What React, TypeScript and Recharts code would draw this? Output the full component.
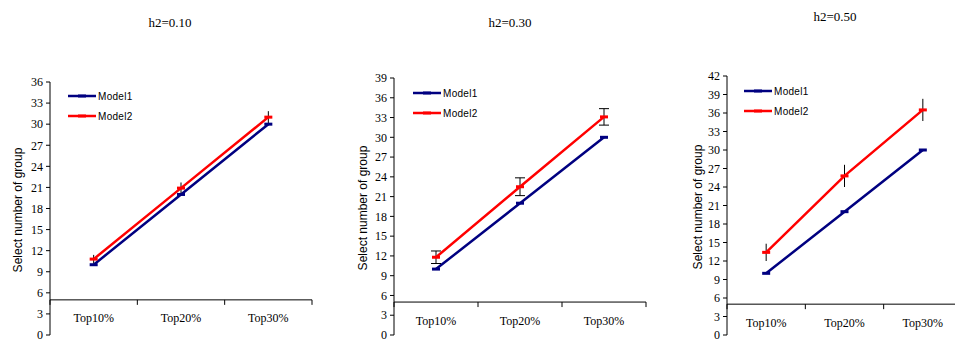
import React from "react";
import { LineChart, Line, XAxis, YAxis, ErrorBar, ReferenceLine, Legend } from "recharts";

const categories = ["Top10%", "Top20%", "Top30%"];
const titles = ["h2=0.10", "h2=0.30", "h2=0.50"];
const seriesNames = ["Model1", "Model2"];

// h2 = 0.10
const model1H10 = [10, 20, 30];
const model2H10 = [10.8, 20.9, 31.0];
const err2H10 = [0.6, 0.8, 0.85];
const yTicksH10 = [0, 3, 6, 9, 12, 15, 18, 21, 24, 27, 30, 33, 36];

// h2 = 0.30
const model1H30 = [10, 20, 30];
const model2H30 = [11.8, 22.5, 33.1];
const err2H30 = [0.95, 1.35, 1.25];
const yTicksH30 = [0, 3, 6, 9, 12, 15, 18, 21, 24, 27, 30, 33, 36, 39];

// h2 = 0.50
const model1H50 = [10, 20, 30];
const model2H50 = [13.4, 25.8, 36.5];
const err2H50 = [1.4, 1.8, 1.8];
const yTicksH50 = [0, 3, 6, 9, 12, 15, 18, 21, 24, 27, 30, 33, 36, 39, 42];

const SERIF = '"Liberation Serif", "Times New Roman", serif';
const SANS = '"Liberation Sans", Arial, sans-serif';
const NAVY = "#000080";
const RED = "#ff0000";
const CHART_H = 343;
const AXIS_W = 30;
const XAXIS_H = 8;
const AXIS_CROSS = 5; // x axis crosses the value axis at 5

type PanelLayout = {
  plotLeft: number;
  plotRight: number;
  plotTop: number;
  plotBottom: number;
  legendX: number;
  legendY: number;
  labelDx: number;
  capWidth: number;
};

const layouts: PanelLayout[] = [
  { plotLeft: 50, plotRight: 312, plotTop: 82, plotBottom: 335, legendX: 68, legendY: 86, labelDx: 2, capWidth: 0 },
  { plotLeft: 394, plotRight: 646, plotTop: 78, plotBottom: 335, legendX: 69, legendY: 83, labelDx: 3, capWidth: 5 },
  { plotLeft: 727, plotRight: 962, plotTop: 76, plotBottom: 335, legendX: 67, legendY: 81, labelDx: 5, capWidth: 0 },
];

const titlePos = [
  { x: 170, y: 27 },
  { x: 510, y: 27 },
  { x: 835, y: 21 },
];

function dashDot(color: string) {
  return (p: any) => (
    <rect key={`d-${p.index}`} x={p.cx - 4} y={p.cy - 1.5} width={8} height={3} fill={color} />
  );
}

function LegendBox({ payload }: any) {
  return (
    <div style={{ fontFamily: SANS, fontSize: 10, color: "#000" }}>
      {(payload || []).map((e: any) => (
        <div key={e.value} style={{ display: "flex", alignItems: "center", height: 20 }}>
          <svg width={29} height={20}>
            <line x1={0} x2={28} y1={10} y2={10} stroke={e.color} strokeWidth={2.5} />
            <rect x={10} y={8.5} width={8} height={3} fill={e.color} />
          </svg>
          <span style={{ marginLeft: 1, letterSpacing: 0.3 }}>{e.value}</span>
        </div>
      ))}
    </div>
  );
}

function Panel({
  m1,
  m2,
  err,
  yTicks,
  layout,
}: {
  m1: number[];
  m2: number[];
  err: number[];
  yTicks: number[];
  layout: PanelLayout;
}) {
  const data = categories.map((cat, i) => ({ cat, m1: m1[i], m2: m2[i], err: err[i] }));
  const left = layout.plotLeft - 20 - AXIS_W;
  const width = layout.plotRight - left + 10;
  const yMax = yTicks[yTicks.length - 1];
  const plotH = layout.plotBottom - layout.plotTop;
  const crossY = layout.plotTop + plotH * (1 - AXIS_CROSS / yMax);
  const labelY = crossY + 22.5;

  return (
    <div style={{ position: "absolute", left, top: 0, width, height: CHART_H }}>
      <LineChart
        width={width}
        height={CHART_H}
        data={data}
        margin={{ top: layout.plotTop, right: 10, bottom: CHART_H - layout.plotBottom - XAXIS_H, left: 20 }}
      >
        <XAxis
          dataKey="cat"
          scale="band"
          height={XAXIS_H}
          axisLine={false}
          tickLine={false}
          interval={0}
          tick={(p: any) => (
            <text
              key={`t-${p.index}`}
              x={p.x}
              y={labelY}
              textAnchor="middle"
              fontFamily={SERIF}
              fontSize={12}
              fill="#000"
            >
              {p.payload.value}
            </text>
          )}
        />
        <YAxis
          type="number"
          domain={[0, yMax]}
          ticks={yTicks}
          interval={0}
          width={AXIS_W}
          axisLine={{ stroke: "#000" }}
          tickLine={{ stroke: "#000" }}
          tickSize={4}
          tickMargin={3}
          tick={{ fontFamily: SERIF, fontSize: 12, fill: "#000" }}
          label={{
            content: (p: any) => {
              const vb = p.viewBox;
              const x = vb.x + layout.labelDx;
              const y = vb.y + vb.height / 2 + 1.5;
              return (
                <text
                  x={x}
                  y={y}
                  transform={`rotate(-90, ${x}, ${y})`}
                  textAnchor="middle"
                  fontFamily={SANS}
                  fontSize={12}
                  fill="#000"
                >
                  Select number of group
                </text>
              );
            },
          }}
        />
        <ReferenceLine
          y={AXIS_CROSS}
          stroke="#000"
          shape={(p: any) => {
            const step = (p.x2 - p.x1) / categories.length;
            return (
              <g>
                <line x1={p.x1} x2={p.x2} y1={p.y1} y2={p.y1} stroke="#000" strokeWidth={1} />
                {[0, 1, 2, 3].map((k) => (
                  <line
                    key={k}
                    x1={p.x1 + k * step}
                    x2={p.x1 + k * step}
                    y1={p.y1}
                    y2={p.y1 + 5}
                    stroke="#000"
                    strokeWidth={1}
                  />
                ))}
              </g>
            );
          }}
        />
        <Legend
          layout="vertical"
          align="center"
          verticalAlign="middle"
          wrapperStyle={{ left: layout.legendX, top: layout.legendY, width: 100 }}
          content={(p: any) => <LegendBox payload={p.payload} />}
        />
        <Line
          dataKey="m1"
          name={seriesNames[0]}
          stroke={NAVY}
          strokeWidth={2.5}
          dot={dashDot(NAVY)}
          activeDot={false}
          isAnimationActive={false}
        />
        <Line
          dataKey="m2"
          name={seriesNames[1]}
          stroke={RED}
          strokeWidth={2.5}
          dot={dashDot(RED)}
          activeDot={false}
          isAnimationActive={false}
        >
          <ErrorBar
            dataKey="err"
            direction="y"
            width={layout.capWidth}
            stroke="#000"
            strokeWidth={1}
            isAnimationActive={false}
          />
        </Line>
      </LineChart>
    </div>
  );
}

export default function App() {
  return (
    <div
      style={{
        position: "absolute",
        left: 0,
        top: 0,
        width: 955,
        height: 343,
        overflow: "hidden",
        background: "#fff",
      }}
    >
      <Panel m1={model1H10} m2={model2H10} err={err2H10} yTicks={yTicksH10} layout={layouts[0]} />
      <Panel m1={model1H30} m2={model2H30} err={err2H30} yTicks={yTicksH30} layout={layouts[1]} />
      <Panel m1={model1H50} m2={model2H50} err={err2H50} yTicks={yTicksH50} layout={layouts[2]} />
      <svg width={955} height={343} style={{ position: "absolute", left: 0, top: 0, pointerEvents: "none" }}>
        {titles.map((t, i) => (
          <text
            key={t}
            x={titlePos[i].x}
            y={titlePos[i].y}
            textAnchor="middle"
            fontFamily={SERIF}
            fontSize={13}
            fill="#000"
          >
            {t}
          </text>
        ))}
      </svg>
    </div>
  );
}
